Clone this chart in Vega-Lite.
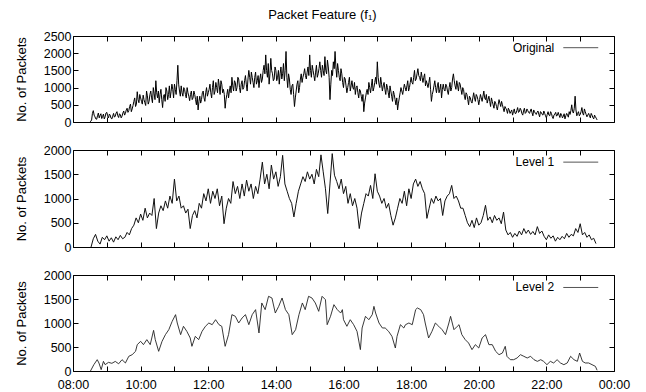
{
"$schema": "https://vega.github.io/schema/vega-lite/v6.json",
"padding": {"left": 14, "top": 8, "right": 10, "bottom": 2},
"title": {"text": "Packet Feature (f₁)", "font": "Liberation Sans", "fontSize": 13, "fontWeight": "normal", "color": "#000", "anchor": "middle", "offset": 8},
"spacing": 14,
"config": {
  "view": {"stroke": "#000", "strokeWidth": 1},
  "axis": {"domain": false, "grid": false, "labelFont": "Liberation Sans", "labelFontSize": 12.5, "labelColor": "#000", "titleFont": "Liberation Sans", "titleFontSize": 13, "titleFontWeight": "normal", "titleColor": "#000", "tickColor": "#000", "tickSize": -5, "labelPadding": 7, "labelFlush": false, "labelOverlap": false, "minExtent": 0, "format": "d"},
  "text": {"font": "Liberation Sans"}
},
"datasets": {
"orig": [
{"m":30,"v":0},{"m":33,"v":60},{"m":36,"v":330},{"m":39,"v":150},{"m":42,"v":80},{"m":45,"v":260},{"m":48,"v":190},{"m":51,"v":100},{"m":54,"v":230},{"m":57,"v":150},
{"m":60,"v":280},{"m":63,"v":120},{"m":66,"v":200},{"m":69,"v":90},{"m":72,"v":250},{"m":75,"v":170},{"m":78,"v":300},{"m":81,"v":130},{"m":84,"v":210},{"m":87,"v":170},
{"m":90,"v":320},{"m":93,"v":250},{"m":96,"v":400},{"m":99,"v":330},{"m":102,"v":520},{"m":105,"v":380},{"m":108,"v":600},{"m":111,"v":450},{"m":114,"v":880},{"m":117,"v":560},
{"m":120,"v":700},{"m":123,"v":520},{"m":126,"v":650},{"m":129,"v":480},{"m":132,"v":760},{"m":135,"v":600},{"m":138,"v":900},{"m":141,"v":560},{"m":144,"v":820},{"m":147,"v":1200},
{"m":150,"v":700},{"m":153,"v":560},{"m":156,"v":950},{"m":159,"v":420},{"m":162,"v":800},{"m":165,"v":1000},{"m":168,"v":650},{"m":171,"v":1050},{"m":174,"v":880},{"m":177,"v":950},
{"m":180,"v":1100},{"m":183,"v":800},{"m":186,"v":1650},{"m":189,"v":900},{"m":192,"v":1050},{"m":195,"v":750},{"m":198,"v":950},{"m":201,"v":700},{"m":204,"v":850},{"m":207,"v":620},
{"m":210,"v":900},{"m":213,"v":700},{"m":216,"v":800},{"m":219,"v":500},{"m":222,"v":350},{"m":225,"v":750},{"m":228,"v":650},{"m":231,"v":900},{"m":234,"v":600},{"m":237,"v":1000},
{"m":240,"v":850},{"m":243,"v":1100},{"m":246,"v":700},{"m":249,"v":1200},{"m":252,"v":900},{"m":255,"v":1000},{"m":258,"v":1250},{"m":261,"v":800},{"m":264,"v":1100},{"m":267,"v":950},
{"m":270,"v":400},{"m":273,"v":800},{"m":276,"v":700},{"m":279,"v":1050},{"m":282,"v":1300},{"m":285,"v":900},{"m":288,"v":1150},{"m":291,"v":1000},{"m":294,"v":1250},{"m":297,"v":850},
{"m":300,"v":1200},{"m":303,"v":1000},{"m":306,"v":1350},{"m":309,"v":900},{"m":312,"v":1500},{"m":315,"v":1100},{"m":318,"v":1300},{"m":321,"v":1000},{"m":324,"v":1450},{"m":327,"v":1200},
{"m":330,"v":1000},{"m":333,"v":1400},{"m":336,"v":1250},{"m":339,"v":1650},{"m":342,"v":1950},{"m":345,"v":1300},{"m":348,"v":1100},{"m":351,"v":1850},{"m":354,"v":1400},{"m":357,"v":1250},
{"m":360,"v":1500},{"m":363,"v":1300},{"m":366,"v":1100},{"m":369,"v":1600},{"m":372,"v":1400},{"m":375,"v":1200},{"m":378,"v":2050},{"m":381,"v":1000},{"m":384,"v":1250},{"m":387,"v":800},
{"m":390,"v":1100},{"m":393,"v":450},{"m":396,"v":900},{"m":399,"v":1200},{"m":402,"v":1000},{"m":405,"v":1400},{"m":408,"v":1300},{"m":411,"v":1550},{"m":414,"v":1250},{"m":417,"v":1600},
{"m":420,"v":1950},{"m":423,"v":1300},{"m":426,"v":1500},{"m":429,"v":1200},{"m":432,"v":1650},{"m":435,"v":1400},{"m":438,"v":1750},{"m":441,"v":1300},{"m":444,"v":1500},{"m":447,"v":1900},
{"m":450,"v":1400},{"m":453,"v":1600},{"m":456,"v":650},{"m":459,"v":1500},{"m":462,"v":1750},{"m":465,"v":2050},{"m":468,"v":1300},{"m":471,"v":1500},{"m":474,"v":1200},{"m":477,"v":1400},
{"m":480,"v":1000},{"m":483,"v":1250},{"m":486,"v":850},{"m":489,"v":1150},{"m":492,"v":900},{"m":495,"v":1200},{"m":498,"v":950},{"m":501,"v":800},{"m":504,"v":1050},{"m":507,"v":700},
{"m":510,"v":900},{"m":513,"v":600},{"m":516,"v":300},{"m":519,"v":700},{"m":522,"v":950},{"m":525,"v":1150},{"m":528,"v":850},{"m":531,"v":1250},{"m":534,"v":1000},{"m":537,"v":1300},
{"m":540,"v":1750},{"m":543,"v":1100},{"m":546,"v":1300},{"m":549,"v":900},{"m":552,"v":1150},{"m":555,"v":800},{"m":558,"v":1000},{"m":561,"v":700},{"m":564,"v":900},{"m":567,"v":600},
{"m":570,"v":800},{"m":573,"v":500},{"m":576,"v":350},{"m":579,"v":700},{"m":582,"v":1000},{"m":585,"v":800},{"m":588,"v":1100},{"m":591,"v":900},{"m":594,"v":1200},{"m":597,"v":1000},
{"m":600,"v":1300},{"m":603,"v":1100},{"m":606,"v":1500},{"m":609,"v":1250},{"m":612,"v":1550},{"m":615,"v":1300},{"m":618,"v":1450},{"m":621,"v":1150},{"m":624,"v":1400},{"m":627,"v":1200},
{"m":630,"v":1000},{"m":633,"v":1300},{"m":636,"v":600},{"m":639,"v":900},{"m":642,"v":1200},{"m":645,"v":850},{"m":648,"v":1150},{"m":651,"v":950},{"m":654,"v":700},{"m":657,"v":1100},
{"m":660,"v":900},{"m":663,"v":1050},{"m":666,"v":800},{"m":669,"v":1150},{"m":672,"v":1000},{"m":675,"v":1400},{"m":678,"v":1050},{"m":681,"v":1200},{"m":684,"v":900},{"m":687,"v":1100},
{"m":690,"v":800},{"m":693,"v":950},{"m":696,"v":650},{"m":699,"v":800},{"m":702,"v":500},{"m":705,"v":700},{"m":708,"v":550},{"m":711,"v":850},{"m":714,"v":600},{"m":717,"v":750},
{"m":720,"v":500},{"m":723,"v":800},{"m":726,"v":600},{"m":729,"v":900},{"m":732,"v":650},{"m":735,"v":550},{"m":738,"v":750},{"m":741,"v":450},{"m":744,"v":600},{"m":747,"v":400},
{"m":750,"v":550},{"m":753,"v":350},{"m":756,"v":650},{"m":759,"v":450},{"m":762,"v":500},{"m":765,"v":300},{"m":768,"v":400},{"m":771,"v":250},{"m":774,"v":350},{"m":777,"v":300},
{"m":780,"v":200},{"m":783,"v":380},{"m":786,"v":250},{"m":789,"v":420},{"m":792,"v":300},{"m":795,"v":350},{"m":798,"v":200},{"m":801,"v":400},{"m":804,"v":280},{"m":807,"v":330},
{"m":810,"v":250},{"m":813,"v":380},{"m":816,"v":180},{"m":819,"v":300},{"m":822,"v":220},{"m":825,"v":320},{"m":828,"v":150},{"m":831,"v":280},{"m":834,"v":200},{"m":837,"v":250},
{"m":840,"v":120},{"m":843,"v":300},{"m":846,"v":180},{"m":849,"v":250},{"m":852,"v":100},{"m":855,"v":230},{"m":858,"v":170},{"m":861,"v":280},{"m":864,"v":130},{"m":867,"v":210},
{"m":870,"v":160},{"m":873,"v":90},{"m":876,"v":250},{"m":879,"v":140},{"m":882,"v":220},{"m":885,"v":500},{"m":888,"v":260},{"m":891,"v":750},{"m":894,"v":180},{"m":897,"v":300},
{"m":900,"v":220},{"m":903,"v":420},{"m":906,"v":200},{"m":909,"v":300},{"m":912,"v":150},{"m":915,"v":250},{"m":918,"v":120},{"m":921,"v":200},{"m":924,"v":90},{"m":927,"v":150},
{"m":930,"v":60},
{"m":31.5,"v":20},{"m":34.5,"v":250},{"m":37.5,"v":200},{"m":40.5,"v":90},{"m":43.5,"v":180},{"m":46.5,"v":120},{"m":49.5,"v":240},{"m":52.5,"v":160},{"m":55.5,"v":90},{"m":58.5,"v":260},
{"m":61.5,"v":180},{"m":64.5,"v":230},{"m":67.5,"v":110},{"m":70.5,"v":170},{"m":73.5,"v":140},{"m":76.5,"v":260},{"m":79.5,"v":180},{"m":82.5,"v":240},{"m":85.5,"v":120},{"m":88.5,"v":260},
{"m":91.5,"v":200},{"m":94.5,"v":350},{"m":97.5,"v":280},{"m":100.5,"v":450},{"m":103.5,"v":300},{"m":106.5,"v":480},{"m":109.5,"v":700},{"m":112.5,"v":520},{"m":115.5,"v":650},{"m":118.5,"v":800},
{"m":121.5,"v":600},{"m":124.5,"v":780},{"m":127.5,"v":560},{"m":130.5,"v":900},{"m":133.5,"v":520},{"m":136.5,"v":800},{"m":139.5,"v":700},{"m":142.5,"v":1000},{"m":145.5,"v":650},{"m":148.5,"v":850},
{"m":151.5,"v":900},{"m":154.5,"v":800},{"m":157.5,"v":650},{"m":160.5,"v":750},{"m":163.5,"v":600},{"m":166.5,"v":900},{"m":169.5,"v":800},{"m":172.5,"v":700},{"m":175.5,"v":1100},{"m":178.5,"v":700},
{"m":181.5,"v":950},{"m":184.5,"v":1200},{"m":187.5,"v":1100},{"m":190.5,"v":750},{"m":193.5,"v":850},{"m":196.5,"v":1000},{"m":199.5,"v":800},{"m":202.5,"v":1000},{"m":205.5,"v":750},{"m":208.5,"v":800},
{"m":211.5,"v":650},{"m":214.5,"v":900},{"m":217.5,"v":650},{"m":220.5,"v":750},{"m":223.5,"v":600},{"m":226.5,"v":550},{"m":229.5,"v":850},{"m":232.5,"v":700},{"m":235.5,"v":850},{"m":238.5,"v":750},
{"m":241.5,"v":950},{"m":244.5,"v":850},{"m":247.5,"v":1000},{"m":250.5,"v":800},{"m":253.5,"v":1150},{"m":256.5,"v":850},{"m":259.5,"v":1050},{"m":262.5,"v":1200},{"m":265.5,"v":850},{"m":268.5,"v":800},
{"m":271.5,"v":650},{"m":274.5,"v":950},{"m":277.5,"v":900},{"m":280.5,"v":850},{"m":283.5,"v":1050},{"m":286.5,"v":1200},{"m":289.5,"v":900},{"m":292.5,"v":1300},{"m":295.5,"v":1000},{"m":298.5,"v":1100},
{"m":301.5,"v":950},{"m":304.5,"v":1200},{"m":307.5,"v":1100},{"m":310.5,"v":1250},{"m":313.5,"v":1300},{"m":316.5,"v":1450},{"m":319.5,"v":1150},{"m":322.5,"v":1300},{"m":325.5,"v":1100},{"m":328.5,"v":1350},
{"m":331.5,"v":1250},{"m":334.5,"v":1150},{"m":337.5,"v":1500},{"m":340.5,"v":1400},{"m":343.5,"v":1500},{"m":346.5,"v":1700},{"m":349.5,"v":1400},{"m":352.5,"v":1500},{"m":355.5,"v":1200},{"m":358.5,"v":1600},
{"m":361.5,"v":1200},{"m":364.5,"v":1500},{"m":367.5,"v":1400},{"m":370.5,"v":1250},{"m":373.5,"v":1700},{"m":376.5,"v":1500},{"m":379.5,"v":1300},{"m":382.5,"v":1400},{"m":385.5,"v":950},{"m":388.5,"v":1050},
{"m":391.5,"v":800},{"m":394.5,"v":700},{"m":397.5,"v":1100},{"m":400.5,"v":850},{"m":403.5,"v":1250},{"m":406.5,"v":1150},{"m":409.5,"v":1400},{"m":412.5,"v":1350},{"m":415.5,"v":1450},{"m":418.5,"v":1350},
{"m":421.5,"v":1500},{"m":424.5,"v":1650},{"m":427.5,"v":1350},{"m":430.5,"v":1450},{"m":433.5,"v":1300},{"m":436.5,"v":1550},{"m":439.5,"v":1500},{"m":442.5,"v":1650},{"m":445.5,"v":1350},{"m":448.5,"v":1500},
{"m":451.5,"v":1800},{"m":454.5,"v":1300},{"m":457.5,"v":1100},{"m":460.5,"v":1350},{"m":463.5,"v":1550},{"m":466.5,"v":1600},{"m":469.5,"v":1700},{"m":472.5,"v":1300},{"m":475.5,"v":1550},{"m":478.5,"v":1150},
{"m":481.5,"v":1300},{"m":484.5,"v":1050},{"m":487.5,"v":1000},{"m":490.5,"v":1300},{"m":493.5,"v":1050},{"m":496.5,"v":1000},{"m":499.5,"v":1150},{"m":502.5,"v":1000},{"m":505.5,"v":850},{"m":508.5,"v":950},
{"m":511.5,"v":750},{"m":514.5,"v":800},{"m":517.5,"v":550},{"m":520.5,"v":850},{"m":523.5,"v":800},{"m":526.5,"v":1000},{"m":529.5,"v":1050},{"m":532.5,"v":900},{"m":535.5,"v":1150},{"m":538.5,"v":1100},
{"m":541.5,"v":1300},{"m":544.5,"v":1000},{"m":547.5,"v":1100},{"m":550.5,"v":1050},{"m":553.5,"v":950},{"m":556.5,"v":1100},{"m":559.5,"v":850},{"m":562.5,"v":1050},{"m":565.5,"v":750},{"m":568.5,"v":900},
{"m":571.5,"v":650},{"m":574.5,"v":700},{"m":577.5,"v":550},{"m":580.5,"v":850},{"m":583.5,"v":900},{"m":586.5,"v":950},{"m":589.5,"v":1000},{"m":592.5,"v":1050},{"m":595.5,"v":900},{"m":598.5,"v":1150},
{"m":601.5,"v":1150},{"m":604.5,"v":1300},{"m":607.5,"v":1200},{"m":610.5,"v":1400},{"m":613.5,"v":1350},{"m":616.5,"v":1200},{"m":619.5,"v":1300},{"m":622.5,"v":1300},{"m":625.5,"v":1050},{"m":628.5,"v":1100},
{"m":631.5,"v":1150},{"m":634.5,"v":950},{"m":637.5,"v":800},{"m":640.5,"v":1050},{"m":643.5,"v":1000},{"m":646.5,"v":1050},{"m":649.5,"v":850},{"m":652.5,"v":1100},{"m":655.5,"v":950},{"m":658.5,"v":950},
{"m":661.5,"v":1100},{"m":664.5,"v":900},{"m":667.5,"v":1000},{"m":670.5,"v":900},{"m":673.5,"v":1250},{"m":676.5,"v":1200},{"m":679.5,"v":950},{"m":682.5,"v":1050},{"m":685.5,"v":1150},{"m":688.5,"v":950},
{"m":691.5,"v":1000},{"m":694.5,"v":750},{"m":697.5,"v":850},{"m":700.5,"v":650},{"m":703.5,"v":750},{"m":706.5,"v":600},{"m":709.5,"v":700},{"m":712.5,"v":700},{"m":715.5,"v":800},{"m":718.5,"v":650},
{"m":721.5,"v":650},{"m":724.5,"v":700},{"m":727.5,"v":750},{"m":730.5,"v":700},{"m":733.5,"v":800},{"m":736.5,"v":650},{"m":739.5,"v":600},{"m":742.5,"v":700},{"m":745.5,"v":500},{"m":748.5,"v":600},
{"m":751.5,"v":450},{"m":754.5,"v":500},{"m":757.5,"v":550},{"m":760.5,"v":600},{"m":763.5,"v":400},{"m":766.5,"v":450},{"m":769.5,"v":350},{"m":772.5,"v":400},{"m":775.5,"v":250},{"m":778.5,"v":350},
{"m":781.5,"v":300},{"m":784.5,"v":250},{"m":787.5,"v":330},{"m":790.5,"v":280},{"m":793.5,"v":400},{"m":796.5,"v":250},{"m":799.5,"v":320},{"m":802.5,"v":250},{"m":805.5,"v":380},{"m":808.5,"v":280},
{"m":811.5,"v":320},{"m":814.5,"v":270},{"m":817.5,"v":350},{"m":820.5,"v":250},{"m":823.5,"v":280},{"m":826.5,"v":230},{"m":829.5,"v":300},{"m":832.5,"v":220},{"m":835.5,"v":320},{"m":838.5,"v":180},
{"m":841.5,"v":220},{"m":844.5,"v":200},{"m":847.5,"v":300},{"m":850.5,"v":150},{"m":853.5,"v":200},{"m":856.5,"v":280},{"m":859.5,"v":200},{"m":862.5,"v":200},{"m":865.5,"v":250},{"m":868.5,"v":120},
{"m":871.5,"v":240},{"m":874.5,"v":180},{"m":877.5,"v":200},{"m":880.5,"v":300},{"m":883.5,"v":330},{"m":886.5,"v":300},{"m":889.5,"v":400},{"m":892.5,"v":350},{"m":895.5,"v":250},{"m":898.5,"v":180},
{"m":901.5,"v":300},{"m":904.5,"v":250},{"m":907.5,"v":380},{"m":910.5,"v":220},{"m":913.5,"v":200},{"m":916.5,"v":180},{"m":919.5,"v":250},{"m":922.5,"v":130},{"m":925.5,"v":200},{"m":928.5,"v":110}
],
"l1": [
{"m":32,"v":0},{"m":36,"v":170},{"m":40,"v":260},{"m":44,"v":120},{"m":48,"v":60},{"m":52,"v":200},{"m":56,"v":150},{"m":60,"v":230},{"m":64,"v":120},{"m":68,"v":190},{"m":72,"v":100},{"m":76,"v":210},{"m":80,"v":150},{"m":84,"v":240},{"m":88,"v":170},
{"m":92,"v":200},{"m":96,"v":300},{"m":100,"v":250},{"m":104,"v":380},{"m":108,"v":450},{"m":112,"v":600},{"m":116,"v":500},{"m":120,"v":680},{"m":124,"v":550},{"m":128,"v":800},{"m":132,"v":600},{"m":136,"v":700},{"m":140,"v":650},{"m":144,"v":1000},{"m":148,"v":380},
{"m":152,"v":700},{"m":156,"v":850},{"m":160,"v":750},{"m":164,"v":950},{"m":168,"v":800},{"m":172,"v":1050},{"m":176,"v":900},{"m":180,"v":1400},{"m":184,"v":950},{"m":188,"v":1050},{"m":192,"v":800},{"m":196,"v":850},{"m":200,"v":700},{"m":204,"v":780},{"m":208,"v":380},
{"m":212,"v":650},{"m":216,"v":750},{"m":220,"v":600},{"m":224,"v":900},{"m":228,"v":800},{"m":232,"v":1100},{"m":236,"v":950},{"m":240,"v":1200},{"m":244,"v":900},{"m":248,"v":1150},{"m":252,"v":1000},{"m":256,"v":1200},{"m":260,"v":850},{"m":264,"v":1050},{"m":268,"v":480},
{"m":272,"v":800},{"m":276,"v":1000},{"m":280,"v":900},{"m":284,"v":1350},{"m":288,"v":1100},{"m":292,"v":1250},{"m":296,"v":1000},{"m":300,"v":1300},{"m":304,"v":1050},{"m":308,"v":1380},{"m":312,"v":1150},{"m":316,"v":1300},{"m":320,"v":1000},{"m":324,"v":1250},{"m":328,"v":1100},
{"m":332,"v":1400},{"m":336,"v":1750},{"m":340,"v":1300},{"m":344,"v":1500},{"m":348,"v":1200},{"m":352,"v":1690},{"m":356,"v":1400},{"m":360,"v":1550},{"m":364,"v":1250},{"m":368,"v":1450},{"m":372,"v":1890},{"m":376,"v":1300},{"m":380,"v":1150},{"m":384,"v":1000},{"m":388,"v":900},
{"m":392,"v":620},{"m":396,"v":900},{"m":400,"v":1150},{"m":404,"v":1300},{"m":408,"v":1450},{"m":412,"v":1350},{"m":416,"v":1550},{"m":420,"v":1400},{"m":424,"v":1500},{"m":428,"v":1300},{"m":432,"v":1600},{"m":436,"v":1450},{"m":440,"v":1900},{"m":444,"v":1550},{"m":448,"v":1200},
{"m":452,"v":690},{"m":456,"v":1300},{"m":460,"v":1925},{"m":464,"v":1480},{"m":468,"v":1350},{"m":472,"v":1200},{"m":476,"v":1400},{"m":480,"v":1100},{"m":484,"v":1250},{"m":488,"v":900},{"m":492,"v":1100},{"m":496,"v":850},{"m":500,"v":1000},{"m":504,"v":800},{"m":508,"v":380},
{"m":512,"v":700},{"m":516,"v":900},{"m":520,"v":1100},{"m":524,"v":1050},{"m":528,"v":1270},{"m":532,"v":1000},{"m":536,"v":1510},{"m":540,"v":1150},{"m":544,"v":1050},{"m":548,"v":900},{"m":552,"v":1000},{"m":556,"v":800},{"m":560,"v":900},{"m":564,"v":650},{"m":568,"v":450},
{"m":572,"v":600},{"m":576,"v":800},{"m":580,"v":1000},{"m":584,"v":900},{"m":588,"v":1150},{"m":592,"v":850},{"m":596,"v":1200},{"m":600,"v":1000},{"m":604,"v":1300},{"m":608,"v":1400},{"m":612,"v":1250},{"m":616,"v":1350},{"m":620,"v":1200},{"m":624,"v":1100},{"m":628,"v":590},
{"m":632,"v":800},{"m":636,"v":1000},{"m":640,"v":900},{"m":644,"v":1050},{"m":648,"v":950},{"m":652,"v":1000},{"m":656,"v":650},{"m":660,"v":950},{"m":664,"v":1050},{"m":668,"v":1100},{"m":672,"v":1270},{"m":676,"v":1000},{"m":680,"v":1050},{"m":684,"v":950},{"m":688,"v":800},
{"m":692,"v":800},{"m":696,"v":650},{"m":700,"v":500},{"m":704,"v":420},{"m":708,"v":550},{"m":712,"v":400},{"m":716,"v":600},{"m":720,"v":450},{"m":724,"v":500},{"m":728,"v":650},{"m":732,"v":860},{"m":736,"v":550},{"m":740,"v":620},{"m":744,"v":500},{"m":748,"v":650},
{"m":752,"v":550},{"m":756,"v":600},{"m":760,"v":480},{"m":764,"v":720},{"m":768,"v":350},{"m":772,"v":250},{"m":776,"v":300},{"m":780,"v":200},{"m":784,"v":280},{"m":788,"v":220},{"m":792,"v":330},{"m":796,"v":250},{"m":800,"v":380},{"m":804,"v":280},{"m":808,"v":350},
{"m":812,"v":260},{"m":816,"v":320},{"m":820,"v":250},{"m":824,"v":420},{"m":828,"v":280},{"m":832,"v":330},{"m":836,"v":220},{"m":840,"v":150},{"m":844,"v":250},{"m":848,"v":180},{"m":852,"v":230},{"m":856,"v":120},{"m":860,"v":200},{"m":864,"v":150},{"m":868,"v":220},
{"m":872,"v":170},{"m":876,"v":280},{"m":880,"v":200},{"m":884,"v":260},{"m":888,"v":230},{"m":892,"v":380},{"m":896,"v":300},{"m":900,"v":480},{"m":904,"v":250},{"m":908,"v":300},{"m":912,"v":200},{"m":916,"v":250},{"m":920,"v":150},{"m":924,"v":180},{"m":928,"v":70}
],
"l2": [
{"m":31,"v":0},{"m":37,"v":132},{"m":43,"v":236},{"m":46,"v":167},{"m":50,"v":28},{"m":54,"v":201},{"m":57,"v":132},{"m":63,"v":180},{"m":69,"v":160},{"m":75,"v":200},{"m":81,"v":150},{"m":87,"v":236},{"m":93,"v":167},{"m":99,"v":306},{"m":105,"v":340},{"m":111,"v":410},{"m":114,"v":549},{"m":120,"v":618},{"m":125,"v":549},{"m":131,"v":653},{"m":137,"v":549},{"m":143,"v":847},{"m":146,"v":653},{"m":152,"v":410},{"m":158,"v":618},{"m":164,"v":757},{"m":170,"v":861},{"m":176,"v":1035},{"m":182,"v":1174},{"m":185,"v":1000},{"m":191,"v":757},{"m":196,"v":931},{"m":202,"v":826},{"m":208,"v":688},{"m":211,"v":514},{"m":217,"v":722},{"m":223,"v":653},{"m":229,"v":826},{"m":235,"v":931},{"m":241,"v":1000},{"m":247,"v":965},{"m":253,"v":1069},{"m":259,"v":965},{"m":264,"v":931},{"m":270,"v":514},{"m":276,"v":757},{"m":282,"v":1174},{"m":288,"v":1140},{"m":294,"v":1000},{"m":300,"v":1104},{"m":306,"v":1174},{"m":312,"v":965},{"m":318,"v":1174},{"m":324,"v":1278},{"m":330,"v":792},{"m":335,"v":1417},{"m":341,"v":1278},{"m":347,"v":1556},{"m":353,"v":1521},{"m":359,"v":1208},{"m":365,"v":1347},{"m":371,"v":1521},{"m":377,"v":1278},{"m":383,"v":1174},{"m":389,"v":757},{"m":395,"v":861},{"m":401,"v":1174},{"m":407,"v":1417},{"m":412,"v":1278},{"m":418,"v":1556},{"m":424,"v":1521},{"m":430,"v":1417},{"m":436,"v":1243},{"m":442,"v":1556},{"m":448,"v":1486},{"m":451,"v":965},{"m":457,"v":1140},{"m":463,"v":1382},{"m":469,"v":1278},{"m":475,"v":1208},
{"m":478,"v":1278},{"m":480,"v":1069},{"m":486,"v":931},{"m":492,"v":1069},{"m":498,"v":965},{"m":504,"v":826},{"m":510,"v":445},{"m":513,"v":896},{"m":519,"v":1139},{"m":525,"v":1069},{"m":531,"v":1174},{"m":534,"v":1347},{"m":537,"v":1208},{"m":543,"v":1000},{"m":549,"v":896},{"m":554,"v":896},{"m":560,"v":826},{"m":566,"v":722},{"m":572,"v":479},{"m":575,"v":722},{"m":581,"v":965},{"m":587,"v":896},{"m":590,"v":965},{"m":596,"v":1000},{"m":602,"v":965},{"m":608,"v":1278},{"m":611,"v":1313},{"m":617,"v":1278},{"m":622,"v":1174},{"m":625,"v":1000},{"m":631,"v":688},{"m":637,"v":826},{"m":643,"v":1000},{"m":649,"v":931},{"m":655,"v":861},{"m":661,"v":757},{"m":667,"v":1000},{"m":670,"v":1139},{"m":676,"v":861},{"m":682,"v":931},{"m":685,"v":965},{"m":690,"v":757},{"m":696,"v":653},{"m":702,"v":583},{"m":708,"v":445},{"m":714,"v":549},{"m":720,"v":479},{"m":726,"v":688},{"m":732,"v":757},{"m":738,"v":549},{"m":744,"v":549},{"m":750,"v":410},{"m":756,"v":340},{"m":762,"v":375},{"m":767,"v":514},{"m":770,"v":306},{"m":776,"v":236},{"m":782,"v":236},{"m":788,"v":271},{"m":794,"v":340},{"m":800,"v":306},{"m":806,"v":271},{"m":812,"v":306},{"m":818,"v":236},{"m":824,"v":201},{"m":830,"v":236},{"m":835,"v":201},{"m":841,"v":132},{"m":847,"v":201},{"m":853,"v":167},{"m":859,"v":236},{"m":865,"v":167},{"m":871,"v":132},{"m":877,"v":167},{"m":883,"v":306},{"m":889,"v":236},{"m":895,"v":201},{"m":899,"v":375},{"m":904,"v":201},{"m":909,"v":167},{"m":915,"v":167},{"m":921,"v":132},{"m":927,"v":97},{"m":930,"v":15}
]
},
"vconcat": [
{
  "width": 541, "height": 86,
  "layer": [
    {"data": {"name": "orig"}, "mark": {"type": "line", "color": "#000", "strokeWidth": 1},
     "encoding": {
       "x": {"field": "m", "type": "quantitative", "scale": {"domain": [0, 960], "nice": false, "zero": false}, "axis": {"orient": "bottom", "values": [0,60,120,180,240,300,360,420,480,540,600,660,720,780,840,900,960], "labels": false, "title": null}},
       "y": {"field": "v", "type": "quantitative", "scale": {"domain": [0, 2500], "nice": false}, "axis": {"orient": "left", "values": [0,500,1000,1500,2000,2500], "title": "No. of Packets", "titlePadding": 15}}
     }},
    {"data": {"values": [{}]}, "mark": {"type": "text", "text": "Original", "align": "right", "baseline": "middle", "fontSize": 12, "color": "#000"},
     "encoding": {
       "x": {"datum": 854, "type": "quantitative", "axis": {"orient": "top", "values": [0,60,120,180,240,300,360,420,480,540,600,660,720,780,840,900,960], "labels": false, "title": null}},
       "y": {"datum": 2160, "type": "quantitative", "axis": {"orient": "right", "values": [0,500,1000,1500,2000,2500], "labels": false, "title": null}}
     }},
    {"data": {"values": [{}]}, "mark": {"type": "rule", "color": "#555", "strokeWidth": 1},
     "encoding": {
       "x": {"datum": 870, "type": "quantitative", "axis": null}, "x2": {"datum": 932},
       "y": {"datum": 2160, "type": "quantitative", "axis": null}
     }}
  ],
  "resolve": {"axis": {"x": "independent", "y": "independent"}}
},
{
  "width": 541, "height": 97,
  "layer": [
    {"data": {"name": "l1"}, "mark": {"type": "line", "color": "#111", "strokeWidth": 1},
     "encoding": {
       "x": {"field": "m", "type": "quantitative", "scale": {"domain": [0, 960], "nice": false, "zero": false}, "axis": {"orient": "bottom", "values": [0,60,120,180,240,300,360,420,480,540,600,660,720,780,840,900,960], "labels": false, "title": null}},
       "y": {"field": "v", "type": "quantitative", "scale": {"domain": [0, 2000], "nice": false}, "axis": {"orient": "left", "values": [0,500,1000,1500,2000], "title": "No. of Packets", "titlePadding": 15}}
     }},
    {"data": {"values": [{}]}, "mark": {"type": "text", "text": "Level 1", "align": "right", "baseline": "middle", "fontSize": 12, "color": "#000"},
     "encoding": {
       "x": {"datum": 854, "type": "quantitative", "axis": {"orient": "top", "values": [0,60,120,180,240,300,360,420,480,540,600,660,720,780,840,900,960], "labels": false, "title": null}},
       "y": {"datum": 1750, "type": "quantitative", "axis": {"orient": "right", "values": [0,500,1000,1500,2000], "labels": false, "title": null}}
     }},
    {"data": {"values": [{}]}, "mark": {"type": "rule", "color": "#555", "strokeWidth": 1},
     "encoding": {
       "x": {"datum": 870, "type": "quantitative", "axis": null}, "x2": {"datum": 932},
       "y": {"datum": 1750, "type": "quantitative", "axis": null}
     }}
  ],
  "resolve": {"axis": {"x": "independent", "y": "independent"}}
},
{
  "width": 541, "height": 96,
  "layer": [
    {"data": {"name": "l2"}, "mark": {"type": "line", "color": "#222", "strokeWidth": 0.9},
     "encoding": {
       "x": {"field": "m", "type": "quantitative", "scale": {"domain": [0, 960], "nice": false, "zero": false}, "axis": {"orient": "bottom", "values": [0,60,120,180,240,300,360,420,480,540,600,660,720,780,840,900,960], "title": null, "labelPadding": 12, "labelExpr": "datum.value % 120 == 0 ? (((8 + datum.value/60) % 24) < 10 ? '0' : '') + ((8 + datum.value/60) % 24) + ':00' : ''"}},
       "y": {"field": "v", "type": "quantitative", "scale": {"domain": [0, 2000], "nice": false}, "axis": {"orient": "left", "values": [0,500,1000,1500,2000], "title": "No. of Packets", "titlePadding": 15}}
     }},
    {"data": {"values": [{}]}, "mark": {"type": "text", "text": "Level 2", "align": "right", "baseline": "middle", "fontSize": 12, "color": "#000"},
     "encoding": {
       "x": {"datum": 854, "type": "quantitative", "axis": {"orient": "top", "values": [0,60,120,180,240,300,360,420,480,540,600,660,720,780,840,900,960], "labels": false, "title": null}},
       "y": {"datum": 1740, "type": "quantitative", "axis": {"orient": "right", "values": [0,500,1000,1500,2000], "labels": false, "title": null}}
     }},
    {"data": {"values": [{}]}, "mark": {"type": "rule", "color": "#555", "strokeWidth": 1},
     "encoding": {
       "x": {"datum": 870, "type": "quantitative", "axis": null}, "x2": {"datum": 932},
       "y": {"datum": 1740, "type": "quantitative", "axis": null}
     }}
  ],
  "resolve": {"axis": {"x": "independent", "y": "independent"}}
}
]
}
